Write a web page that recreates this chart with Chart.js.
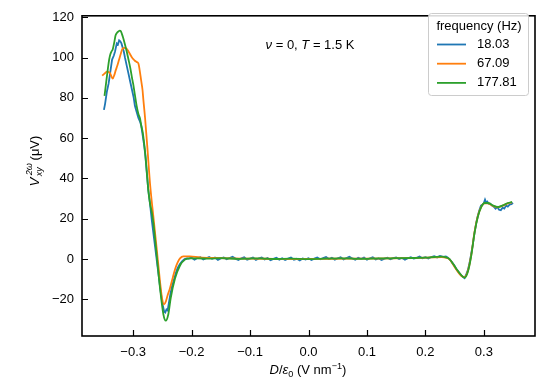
<!DOCTYPE html>
<html>
<head>
<meta charset="utf-8">
<script src="https://cdn.jsdelivr.net/npm/chart.js@4.4.1/dist/chart.umd.min.js"></script>
<style>body{margin:0;background:#fff}</style>
</head>
<body>
<canvas id="grafica" width="546" height="382"></canvas>
<script>
// frecuencias (leyenda)
const frecuencias = ["18.03", "67.09", "177.81"];

// ticks de los ejes
const xTicks = [-0.3, -0.2, -0.1, 0.0, 0.1, 0.2, 0.3];
const yTicks = [-20, 0, 20, 40, 60, 80, 100, 120];

// serie 18.03 Hz (azul, con ruido)
const azulX = [-0.350, -0.348, -0.345, -0.342, -0.339, -0.336, -0.333, -0.331, -0.328, -0.326, -0.324, -0.322, -0.320, -0.318, -0.316, -0.314, -0.311, -0.308, -0.305, -0.302, -0.299, -0.297, -0.294, -0.291, -0.288, -0.286, -0.284, -0.281, -0.279, -0.277, -0.274, -0.271, -0.268, -0.265, -0.262, -0.259, -0.256, -0.253, -0.250, -0.247, -0.245, -0.243, -0.241, -0.239, -0.236, -0.233, -0.230, -0.227, -0.224, -0.220, -0.216, -0.212, -0.208,
  -0.205, -0.200, -0.195, -0.190, -0.185, -0.180, -0.175, -0.170, -0.165, -0.160, -0.155, -0.150, -0.145, -0.140, -0.135, -0.130, -0.125, -0.120, -0.115, -0.110, -0.105, -0.100, -0.095, -0.090, -0.085, -0.080, -0.075, -0.070, -0.065, -0.060, -0.055, -0.050, -0.045, -0.040, -0.035, -0.030, -0.025, -0.020, -0.015, -0.010, -0.005,
  0.000, 0.005, 0.010, 0.015, 0.020, 0.025, 0.030, 0.035, 0.040, 0.045, 0.050, 0.055, 0.060, 0.065, 0.070, 0.075, 0.080, 0.085, 0.090, 0.095, 0.100, 0.105, 0.110, 0.115, 0.120, 0.125, 0.130, 0.135, 0.140, 0.145, 0.150, 0.155, 0.160, 0.165, 0.170, 0.175, 0.180, 0.185, 0.190, 0.195, 0.200, 0.205, 0.210, 0.215, 0.220, 0.225, 0.230, 0.235,
  0.238, 0.241, 0.246, 0.250, 0.253, 0.257, 0.261, 0.264, 0.267, 0.270, 0.2726, 0.2755, 0.278, 0.281, 0.284, 0.287, 0.2897, 0.292, 0.295, 0.298, 0.300, 0.302, 0.304, 0.306, 0.308, 0.311, 0.314, 0.317, 0.320, 0.323, 0.326, 0.329, 0.332, 0.335, 0.338, 0.341, 0.344, 0.347, 0.350];
const azulY = [74, 77, 83, 87, 93, 99, 101, 103, 107, 106.5, 108.5, 108, 107, 105, 103, 100, 96, 92, 88, 84, 80, 76, 73, 70, 68, 66, 62, 56, 51, 44, 34, 27, 19, 12, 5, -2, -9, -16, -22, -26, -26.5, -25, -25.5, -22, -17, -13, -10, -7, -4.5, -2.5, -1, 0, 0.3,
  0.2, 0.6, -0.3, 0.5, 0.9, -0.2, 0.4, 1.0, 0.1, 0.7, -0.4, 0.3, 0.8, -0.1, 0.5, 1.1, 0.2, -0.5, 0.4, 0.9, -0.3, 0.2, 0.7, -0.4, 0.3, 0.8, -0.2, 0.5, -0.6, 0.1, 0.6, -0.3, 0.4, -0.5, 0.2, 0.7, -0.4, 0.1, -0.7, 0.3, -0.2,
  0.4, -0.5, 0.2, 0.8, -0.1, 0.5, 1.0, 0.0, 0.6, -0.3, 0.4, 0.9, -0.2, 0.5, 1.1, 0.3, -0.4, 0.6, 0.1, 0.7, -0.3, 0.4, 0.9, -0.2, 0.3, -0.5, 0.2, 0.6, -0.1, 0.4, 0.8, 0.0, 0.5, -0.3, 0.4, 0.9, 0.2, 0.6, 1.2, 0.4, 0.9, 0.3, 1.0, 1.4, 0.8, 1.5, 1.1, 1.3,
  0.8, 0, -1.8, -3.5, -5, -6.5, -8, -8.8, -9.5, -7.5, -5.5, -2, 2, 7, 13, 18, 21.5, 24, 26.5, 27, 27.8, 29.5, 28, 28.5, 27.5, 27.5, 26.5, 26, 25, 25.8, 24.5, 24.2, 25.5, 25, 26.5, 26, 27, 27.2, 27.8];

// serie 67.09 Hz (naranja)
const naranjaX = [-0.353, -0.349, -0.345, -0.342, -0.339, -0.337, -0.335, -0.332, -0.330, -0.327, -0.324, -0.321, -0.318, -0.314, -0.311, -0.308, -0.305, -0.302, -0.299, -0.297, -0.294, -0.291, -0.289, -0.2865, -0.284, -0.2825, -0.2796, -0.2756, -0.271, -0.2654, -0.2596, -0.254, -0.2506, -0.2471, -0.244, -0.241, -0.237, -0.232, -0.228, -0.224, -0.2198, -0.2142, -0.2027, -0.186, -0.160, -0.134,
  -0.10, -0.06, -0.02, 0.02, 0.06, 0.10, 0.14, 0.18, 0.21, 0.228, 0.236, 0.2413, 0.2528, 0.2613, 0.267, 0.2726, 0.2784, 0.284, 0.2897, 0.2955, 0.3011, 0.3068, 0.3153, 0.3238, 0.3324, 0.341, 0.3484];
const naranjaY = [91, 92, 93, 92.8, 92, 90.5, 89.5, 91.5, 93.5, 96, 99, 102, 104.5, 104.8, 104.3, 103, 101.5, 100, 99, 98.4, 97.8, 97, 94, 89, 84, 79, 70, 55, 37, 21, 4.8, -11.3, -19.4, -22.5, -21, -18, -14.5, -9, -4.8, -1.8, 0.3, 1.3, 1.3, 0.8, 0.5, 0.3,
  0.2, 0.1, 0.0, 0.1, 0.2, 0.2, 0.3, 0.5, 0.8, 1.0, 0.6, -0.2, -5.2, -8.3, -9.0, -6.0, 2.0, 13.3, 21.3, 25.9, 27.6, 27.6, 26.4, 25.7, 26.5, 27.6, 28.1];

// serie 177.81 Hz (verde)
const verdeX = [-0.349, -0.346, -0.343, -0.341, -0.339, -0.337, -0.335, -0.332, -0.330, -0.327, -0.325, -0.323, -0.321, -0.319, -0.317, -0.314, -0.311, -0.308, -0.305, -0.302, -0.300, -0.297, -0.294, -0.291, -0.288, -0.286, -0.2836, -0.2796, -0.2767, -0.274, -0.271, -0.268, -0.2654, -0.2596, -0.254, -0.2483, -0.2442, -0.2398, -0.2357, -0.2284, -0.2198, -0.2113, -0.2027,
  -0.19, -0.17, -0.15, -0.12, -0.09, -0.06, -0.03, 0.0, 0.03, 0.06, 0.09, 0.12, 0.15, 0.18, 0.20, 0.215, 0.228, 0.2357, 0.2413, 0.2528, 0.2613, 0.267, 0.2726, 0.2784, 0.284, 0.2897, 0.2955, 0.3011, 0.3068, 0.3153, 0.3238, 0.3324, 0.341, 0.3484];
const verdeY = [81, 88, 95, 99, 101.6, 103, 104, 108, 111, 112.5, 113, 113.3, 113, 111.5, 109.7, 106.5, 103, 99, 95, 90, 87, 81.5, 76, 72, 69.4, 66, 62.9, 53.2, 43.5, 33.9, 27.4, 23, 17.8, 1.6, -14.5, -27.4, -30.6, -27.4, -19.4, -9.7, -3.2, -0.3, 0.3,
  0.3, 0.2, 0.4, 0.1, 0.3, 0.0, 0.2, -0.1, 0.2, 0.3, 0.1, 0.3, 0.4, 0.5, 0.7, 1.0, 1.2, 0.8, 0, -4.8, -8, -9.2, -6.4, 1.6, 12.9, 21, 25.8, 27.8, 27.8, 26.6, 25.8, 26.6, 27.8, 28.3];

const colores = ["#1f77b4", "#ff7f0e", "#2ca02c"];
const FUENTE = '"Liberation Sans", Arial, sans-serif';

function puntos(xs, ys) {
    return xs.map((x, i) => ({ x: x, y: ys[i] }));
}

function fuente(it, sz) {
    return (it ? "italic " : "") + sz + "px " + FUENTE;
}

// texto con cursivas, superindices y subindices, centrado en cx con linea base cy
function dibujarTexto(ctx, runs, cx, cy, sz) {
    let ancho = 0;
    const piezas = [];
    for (const r of runs) {
        if (r.sup && r.sub) {
            ctx.font = fuente(r.sup.it, sz * 0.7);
            const w1 = ctx.measureText(r.sup.t).width;
            ctx.font = fuente(r.sub.it, sz * 0.7);
            const w2 = ctx.measureText(r.sub.t).width;
            ancho += 1.5;
            piezas.push({ r: r, x: ancho });
            ancho += Math.max(w1, w2);
        } else {
            ctx.font = fuente(r.it, r.pos ? sz * 0.7 : sz);
            piezas.push({ r: r, x: ancho });
            ancho += ctx.measureText(r.t).width;
        }
    }
    ctx.textAlign = "left";
    ctx.textBaseline = "alphabetic";
    const x0 = cx - ancho / 2;
    for (const p of piezas) {
        const r = p.r;
        if (r.sup && r.sub) {
            ctx.font = fuente(r.sup.it, sz * 0.7);
            ctx.fillText(r.sup.t, x0 + p.x + 1, cy - sz * 0.5);
            ctx.font = fuente(r.sub.it, sz * 0.7);
            ctx.fillText(r.sub.t, x0 + p.x, cy + sz * 0.3);
        } else {
            ctx.font = fuente(r.it, r.pos ? sz * 0.7 : sz);
            const dy = r.pos === "sup" ? -sz * 0.4 : (r.pos === "sub" ? sz * 0.22 : 0);
            ctx.fillText(r.t, x0 + p.x, cy + dy);
        }
    }
}

const extras = {
    id: "extras",
    afterDraw(chart) {
        const ctx = chart.ctx;
        const a = chart.chartArea;
        const sx = chart.scales.x, sy = chart.scales.y;
        ctx.save();
        ctx.strokeStyle = "#000";
        // ticks hacia adentro
        ctx.lineWidth = 1.2;
        ctx.beginPath();
        for (const v of xTicks) {
            const px = Math.round(sx.getPixelForValue(v)) + 0.5;
            ctx.moveTo(px, a.bottom);
            ctx.lineTo(px, a.bottom - 6);
        }
        for (const v of yTicks) {
            const py = Math.round(sy.getPixelForValue(v)) + 0.5;
            ctx.moveTo(a.left, py);
            ctx.lineTo(a.left + 6, py);
        }
        ctx.stroke();
        // marco
        ctx.lineWidth = 1.6;
        ctx.strokeRect(a.left, a.top, a.right - a.left, a.bottom - a.top);

        ctx.fillStyle = "#000";
        // anotacion
        dibujarTexto(ctx, [
            { t: "\u03bd", it: true }, { t: " = 0, " }, { t: "T", it: true }, { t: " = 1.5 K" }
        ], 310, 49, 13);
        // eje x
        dibujarTexto(ctx, [
            { t: "D", it: true }, { t: "/" }, { t: "\u03b5", it: true }, { t: "0", pos: "sub" },
            { t: " (V nm" }, { t: "\u22121", pos: "sup" }, { t: ")" }
        ], 308, 374, 13);
        // eje y
        ctx.save();
        ctx.translate(38.5, 161);
        ctx.rotate(-Math.PI / 2);
        dibujarTexto(ctx, [
            { t: "V", it: true }, { sup: { t: "2\u03c9", it: true }, sub: { t: "xy", it: true } }, { t: " (\u03bcV)" }
        ], 0, 0, 13);
        ctx.restore();

        // leyenda
        const lx = 428, ly = 13, lw = 100, lh = 82;
        ctx.fillStyle = "rgba(255,255,255,0.85)";
        ctx.strokeStyle = "#cccccc";
        ctx.lineWidth = 1;
        ctx.beginPath();
        ctx.roundRect(lx + 0.5, ly + 0.5, lw, lh, 3);
        ctx.fill();
        ctx.stroke();
        ctx.fillStyle = "#000";
        ctx.font = "13px " + FUENTE;
        ctx.textAlign = "center";
        ctx.textBaseline = "middle";
        ctx.fillText("frequency (Hz)", lx + lw / 2 + 1, 26);
        chart.data.datasets.forEach((ds, i) => {
            const yy = 44.5 + i * 19.2;
            ctx.strokeStyle = ds.borderColor;
            ctx.lineWidth = 1.8;
            ctx.beginPath();
            ctx.moveTo(437, yy);
            ctx.lineTo(466, yy);
            ctx.stroke();
            ctx.textAlign = "left";
            ctx.fillText(ds.label, 477, yy);
        });
        ctx.restore();
    }
};

const grafica = document.getElementById("grafica").getContext("2d");

const myChart = new Chart(grafica, {
    type: "line",
    data: {
        datasets: [
            { label: frecuencias[0], data: puntos(azulX, azulY), borderColor: colores[0], order: 3 },
            { label: frecuencias[1], data: puntos(naranjaX, naranjaY), borderColor: colores[1], order: 2, cubicInterpolationMode: "monotone" },
            { label: frecuencias[2], data: puntos(verdeX, verdeY), borderColor: colores[2], order: 1, cubicInterpolationMode: "monotone" }
        ]
    },
    options: {
        responsive: false,
        animation: false,
        devicePixelRatio: 1,
        layout: { padding: { top: 7, right: 11, left: 0, bottom: 0 } },
        elements: {
            point: { radius: 0 },
            line: { borderWidth: 1.8, fill: false }
        },
        plugins: {
            legend: { display: false },
            tooltip: { enabled: false }
        },
        scales: {
            x: {
                type: "linear",
                min: -0.3875,
                max: 0.3875,
                grid: { display: false, drawTicks: false },
                border: { display: false },
                afterBuildTicks: (scale) => { scale.ticks = xTicks.map(v => ({ value: v })); },
                afterFit: (scale) => { scale.height = 46; },
                ticks: {
                    padding: 9,
                    color: "#000",
                    font: { family: FUENTE, size: 13 },
                    maxRotation: 0,
                    callback: (v) => (v < -1e-9 ? "\u2212" : "") + Math.abs(v).toFixed(1)
                }
            },
            y: {
                type: "linear",
                min: -38.2,
                max: 120.7,
                grid: { display: false, drawTicks: false },
                border: { display: false },
                afterBuildTicks: (scale) => { scale.ticks = yTicks.map(v => ({ value: v })); },
                afterFit: (scale) => { scale.width = 82; },
                ticks: {
                    padding: 8,
                    color: "#000",
                    font: { family: FUENTE, size: 13 },
                    callback: (v) => (v < 0 ? "\u2212" : "") + Math.abs(v)
                }
            }
        }
    },
    plugins: [extras]
});
</script>
</body>
</html>
